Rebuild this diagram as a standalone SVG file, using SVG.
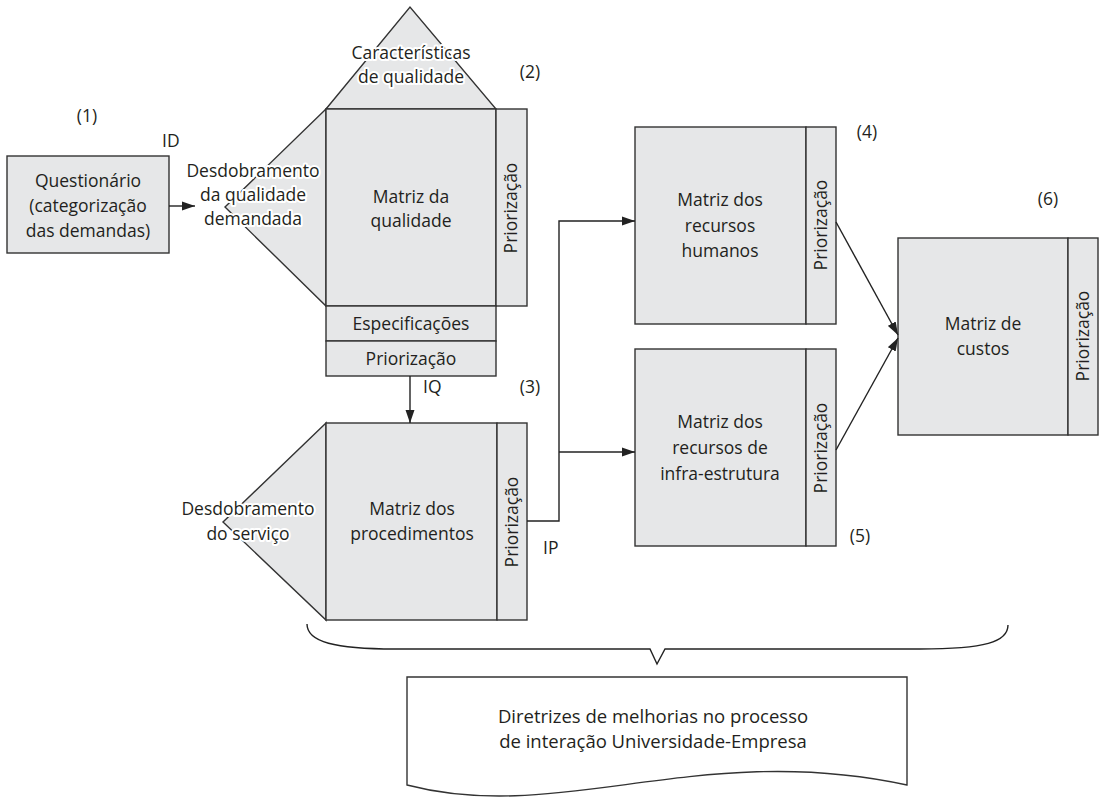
<svg xmlns="http://www.w3.org/2000/svg" width="1101" height="797" viewBox="0 0 1101 797">
<defs>
<style>
.box{fill:#e6e7e8;stroke:#333;stroke-width:1.4}
.doc{fill:#fff;stroke:#333;stroke-width:1.4}
.ln{fill:none;stroke:#222;stroke-width:1.4}
.t{font-family:"Open Sans","Liberation Sans",sans-serif;font-size:17.5px;fill:#231f20;text-anchor:middle}
.h{stroke:#fff;stroke-width:4;stroke-linejoin:round;paint-order:stroke}
.l{text-anchor:start}
.b{font-size:18.5px}
</style>
<marker id="ah" markerWidth="14" markerHeight="10" refX="13" refY="5" orient="auto" markerUnits="userSpaceOnUse">
<path d="M0,0.5 L13,5 L0,9.5 Z" fill="#222"/>
</marker>
</defs>
<rect width="1101" height="797" fill="#fff"/>

<g id="questionario">
<rect class="box" x="7" y="156" width="162" height="97"/>
<text class="t" x="88" y="187">Questionário</text>
<text class="t" x="88" y="212">(categorização</text>
<text class="t" x="88" y="237">das demandas)</text>
</g>

<g id="matriz-qualidade">
<polygon class="box" points="326,109 410,7 496,109"/>
<polygon class="box" points="326,109 225,207 326,306"/>
<rect class="box" x="326" y="109" width="170" height="197"/>
<rect class="box" x="496" y="109" width="31" height="197"/>
<rect class="box" x="326" y="306" width="170" height="35"/>
<rect class="box" x="326" y="341" width="170" height="35"/>
<text class="t h" x="411" y="59">Características</text>
<text class="t h" x="411" y="83">de qualidade</text>
<text class="t h" x="253" y="177">Desdobramento</text>
<text class="t h" x="253" y="201">da qualidade</text>
<text class="t h" x="253" y="225">demandada</text>
<text class="t" x="411" y="203">Matriz da</text>
<text class="t" x="411" y="227">qualidade</text>
<text class="t" transform="translate(517,208) rotate(-90)">Priorização</text>
<text class="t" x="411" y="330">Especificações</text>
<text class="t" x="411" y="365">Priorização</text>
</g>

<g id="matriz-procedimentos">
<polygon class="box" points="326,423 223,522 326,620"/>
<rect class="box" x="326" y="423" width="171" height="197"/>
<rect class="box" x="497" y="423" width="30" height="197"/>
<text class="t h" x="248" y="515">Desdobramento</text>
<text class="t h" x="248" y="540">do serviço</text>
<text class="t" x="412" y="515">Matriz dos</text>
<text class="t" x="412" y="540">procedimentos</text>
<text class="t" transform="translate(518,522) rotate(-90)">Priorização</text>
</g>

<g id="matriz-rh">
<rect class="box" x="635" y="127" width="171" height="197"/>
<rect class="box" x="806" y="127" width="30" height="197"/>
<text class="t" x="720" y="206">Matriz dos</text>
<text class="t" x="720" y="232">recursos</text>
<text class="t" x="720" y="257">humanos</text>
<text class="t" transform="translate(827,225) rotate(-90)">Priorização</text>
</g>

<g id="matriz-infra">
<rect class="box" x="635" y="349" width="171" height="197"/>
<rect class="box" x="806" y="349" width="30" height="197"/>
<text class="t" x="720" y="428">Matriz dos</text>
<text class="t" x="720" y="454">recursos de</text>
<text class="t" x="720" y="480">infra-estrutura</text>
<text class="t" transform="translate(827,448) rotate(-90)">Priorização</text>
</g>

<g id="matriz-custos">
<rect class="box" x="898" y="238" width="170" height="197"/>
<rect class="box" x="1068" y="238" width="30" height="197"/>
<text class="t" x="983" y="330">Matriz de</text>
<text class="t" x="983" y="355">custos</text>
<text class="t" transform="translate(1089,336) rotate(-90)">Priorização</text>
</g>

<g id="diretrizes">
<path class="doc" d="M407,785 L407,677 L907,677 L907,785 C700,740 560,825 407,785 Z"/>
<text class="t b" x="653" y="723">Diretrizes de melhorias no processo</text>
<text class="t b" x="653" y="748">de interação Universidade-Empresa</text>
</g>

<g id="labels">
<text class="t" x="87" y="122">(1)</text>
<text class="t l" x="162" y="147">ID</text>
<text class="t" x="530" y="78">(2)</text>
<text class="t" x="530" y="393">(3)</text>
<text class="t l" x="423" y="393">IQ</text>
<text class="t l" x="543" y="554">IP</text>
<text class="t" x="867" y="138">(4)</text>
<text class="t" x="860" y="542">(5)</text>
<text class="t" x="1048" y="205">(6)</text>
</g>

<g id="connectors">
<path class="ln" d="M169,206 L195,206" marker-end="url(#ah)"/>
<path class="ln" d="M410,376 L410,423" marker-end="url(#ah)"/>
<path class="ln" d="M527,521 L559,521 L559,221 L635,221" marker-end="url(#ah)"/>
<path class="ln" d="M559,452 L635,452" marker-end="url(#ah)"/>
<path class="ln" d="M836,222 L898,335" marker-end="url(#ah)"/>
<path class="ln" d="M836,450 L898,338" marker-end="url(#ah)"/>
<path class="ln" d="M307,624 C307,642 335,649 395,649 L650,649 L657,664 L665,649 L920,649 C985,649 1008,642 1008,625"/>
</g>
</svg>
